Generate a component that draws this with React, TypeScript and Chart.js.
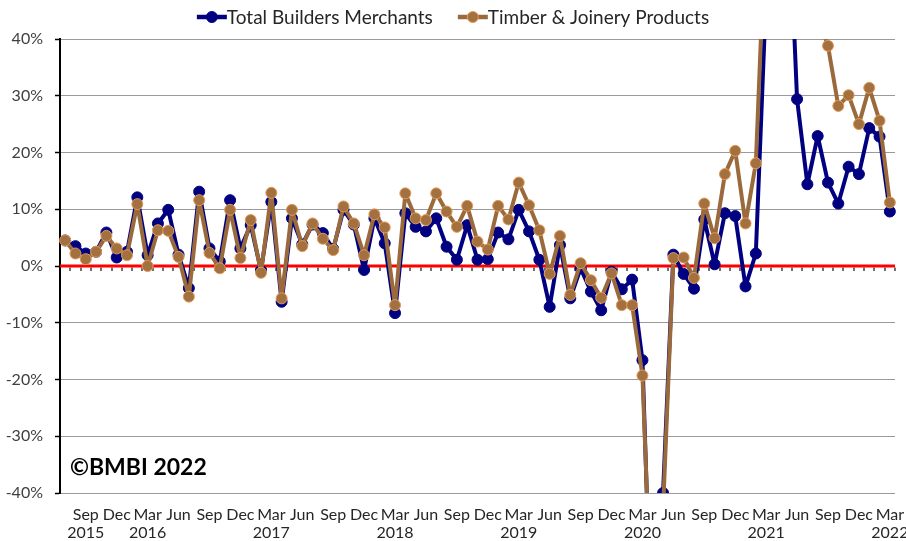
import React, { useEffect, useRef } from "react";
import { Chart, registerables } from "chart.js";

Chart.register(...registerables);

// Monthly data, Jul 2015 .. Mar 2022
const startYear = 2015;
const startMonth = 6; // 0-based: July
const monthNames = ["Jan", "Feb", "Mar", "Apr", "May", "Jun", "Jul", "Aug", "Sep", "Oct", "Nov", "Dec"];

const totalBuildersMerchants: number[] = [
  4.5, 3.5, 2.2, 2.5, 5.9, 1.5, 2.5, 12.1, 1.9, 7.5,
  9.9, 2.0, -3.9, 13.1, 3.1, 0.8, 11.6, 3.1, 7.2, -0.8,
  11.3, -6.3, 8.4, 3.8, 7.3, 5.8, 3.0, 9.9, 7.3, -0.7,
  8.4, 4.0, -8.3, 9.3, 6.9, 6.1, 8.4, 3.4, 1.1, 7.2,
  1.1, 1.2, 5.9, 4.7, 9.9, 6.1, 1.1, -7.2, 3.7, -5.7,
  -0.4, -4.5, -7.8, -1.0, -4.1, -2.4, -16.6, -72, -40, 2.0,
  -1.4, -4.0, 8.2, 0.3, 9.3, 8.8, -3.6, 2.2, 48, 240,
  72, 29.4, 14.4, 22.9, 14.7, 11.0, 17.5, 16.2, 24.3, 22.8,
  9.6,
];

const timberJoineryProducts: number[] = [
  4.5, 2.2, 1.2, 2.5, 5.3, 3.1, 1.9, 10.9, 0.0, 6.3,
  6.2, 1.6, -5.4, 11.6, 2.3, -0.4, 9.9, 1.4, 8.1, -1.2,
  12.9, -5.7, 9.9, 3.5, 7.5, 4.8, 2.8, 10.5, 7.5, 1.9,
  9.1, 6.8, -6.9, 12.8, 8.4, 8.1, 12.8, 9.6, 6.9, 10.6,
  4.3, 2.9, 10.6, 8.2, 14.7, 10.7, 6.3, -1.4, 5.3, -5.1,
  0.5, -2.5, -5.6, -1.3, -6.9, -6.9, -19.3, -67, -43, 1.4,
  1.5, -2.1, 11.0, 4.9, 16.2, 20.3, 7.5, 18.1, 63, 300,
  95, 58, 47, 44, 38.8, 28.2, 30.1, 25.0, 31.4, 25.6,
  11.2,
];

const categories: string[] = totalBuildersMerchants.map((_, i) => {
  const m = (startMonth + i) % 12;
  const y = startYear + Math.floor((startMonth + i) / 12);
  return monthNames[m] + " " + y;
});

const labelMonths = ["Sep", "Dec", "Mar", "Jun"];
const yearLabelMonths = ["Mar"];

const yTicks = { min: -40, max: 40, step: 10 };

const seriesNames = ["Total Builders Merchants", "Timber & Joinery Products"];
const copyrightText = "\u00A9BMBI 2022";

const FONT = "Lato, 'Open Sans', sans-serif";

const BLUE = "#000080";
const BROWN = "#9a6a3c";
const BROWN_POINT = "#a3713f";
const BROWN_BORDER = "#e39a58";

export default function App() {
  const ref = useRef<HTMLCanvasElement | null>(null);

  useEffect(() => {
    if (!ref.current) return;

    const decor = {
      id: "decor",
      beforeDatasetsDraw(chart: any) {
        const { ctx, chartArea } = chart;
        const x = chart.scales.x;
        const y = chart.scales.y;
        const y0 = y.getPixelForValue(0);
        ctx.save();
        const n = categories.length;
        const half = (x.getPixelForValue(1) - x.getPixelForValue(0)) / 2;
        ctx.fillStyle = "#404040";
        for (let i = 0; i < n; i++) {
          const px = x.getPixelForValue(i) + half;
          ctx.fillRect(Math.round(px) - 0.75, y0 + 1.5, 1.5, 3.5);
        }
        ctx.strokeStyle = "#ff0000";
        ctx.lineWidth = 3;
        ctx.beginPath();
        ctx.moveTo(chartArea.left, y0);
        ctx.lineTo(chartArea.right, y0);
        ctx.stroke();
        ctx.restore();
      },
      afterDraw(chart: any) {
        const { ctx, chartArea } = chart;
        ctx.save();
        ctx.font = "19px " + FONT;
        ctx.textBaseline = "middle";
        const items = [
          { name: seriesNames[0], line: BLUE, fill: BLUE, border: BLUE },
          { name: seriesNames[1], line: BROWN, fill: BROWN_POINT, border: BROWN_BORDER },
        ];
        const markerW = 30;
        const gap = 25;
        const widths = items.map((it) => ctx.measureText(it.name).width);
        const total = markerW * 2 + widths[0] + widths[1] + gap;
        let cx = (chart.width - total) / 2;
        const ly = 17;
        items.forEach((it, k) => {
          ctx.strokeStyle = it.line;
          ctx.lineWidth = 4.5;
          ctx.beginPath();
          ctx.moveTo(cx, ly);
          ctx.lineTo(cx + markerW, ly);
          ctx.stroke();
          ctx.beginPath();
          ctx.arc(cx + markerW / 2, ly, 5.5, 0, Math.PI * 2);
          ctx.fillStyle = it.fill;
          ctx.fill();
          ctx.lineWidth = 1;
          ctx.strokeStyle = it.border;
          ctx.stroke();
          ctx.fillStyle = "#262626";
          ctx.textAlign = "left";
          ctx.fillText(it.name, cx + markerW, ly + 1);
          cx += markerW + widths[k] + gap;
        });
        ctx.font = "bold 23px " + FONT;
        ctx.fillStyle = "#000000";
        ctx.textBaseline = "alphabetic";
        ctx.fillText(copyrightText, chartArea.left + 10, chartArea.bottom - 18);
        ctx.restore();
      },
    };

    const chart = new Chart(ref.current, {
      type: "line",
      data: {
        labels: categories,
        datasets: [
          {
            label: seriesNames[0],
            data: totalBuildersMerchants,
            borderColor: BLUE,
            backgroundColor: BLUE,
            pointBackgroundColor: BLUE,
            pointBorderColor: BLUE,
            pointBorderWidth: 1,
            pointRadius: 5.5,
            borderWidth: 4,
            borderJoinStyle: "round",
            borderCapStyle: "round",
            tension: 0,
            order: 1,
          },
          {
            label: seriesNames[1],
            data: timberJoineryProducts,
            borderColor: BROWN,
            backgroundColor: BROWN_POINT,
            pointBackgroundColor: BROWN_POINT,
            pointBorderColor: BROWN_BORDER,
            pointBorderWidth: 1,
            pointRadius: 5.5,
            borderWidth: 4,
            borderJoinStyle: "round",
            borderCapStyle: "round",
            tension: 0,
            order: 0,
          },
        ],
      },
      options: {
        responsive: false,
        animation: false,
        layout: { padding: { top: 39, right: 11, left: 0, bottom: 0 } },
        plugins: {
          legend: { display: false },
          tooltip: { enabled: false },
        },
        scales: {
          x: {
            type: "category",
            offset: true,
            grid: { display: false },
            border: { display: false },
            afterFit(scale: any) {
              scale.height = 48;
              scale.paddingLeft = 0;
              scale.paddingRight = 0;
            },
            ticks: {
              autoSkip: false,
              maxRotation: 0,
              minRotation: 0,
              padding: 5,
              color: "#262626",
              font: { family: FONT, size: 16, lineHeight: 1.1 },
              callback: (_v: any, i: number) => {
                const [mon, yr] = categories[i].split(" ");
                if (!labelMonths.includes(mon)) return "";
                if (i === 2 || yearLabelMonths.includes(mon)) return [mon, yr];
                return mon;
              },
            },
          },
          y: {
            min: yTicks.min,
            max: yTicks.max,
            afterFit(scale: any) {
              scale.width = 60;
            },
            grid: {
              color: "#9a9a9a",
              lineWidth: 1,
              tickColor: "#000000",
              tickLength: 5,
              tickWidth: 1.5,
            },
            border: { display: true, color: "#000000", width: 2 },
            ticks: {
              stepSize: yTicks.step,
              padding: 12,
              color: "#404040",
              font: { family: FONT, size: 16 },
              callback: (v: any) => v + "%",
            },
          },
        },
      },
      plugins: [decor],
    });

    return () => chart.destroy();
  }, []);

  return (
    <div style={{ position: "fixed", left: 0, top: 0, width: 906, height: 541, background: "#fff" }}>
      <canvas ref={ref} width={906} height={541} />
    </div>
  );
}
